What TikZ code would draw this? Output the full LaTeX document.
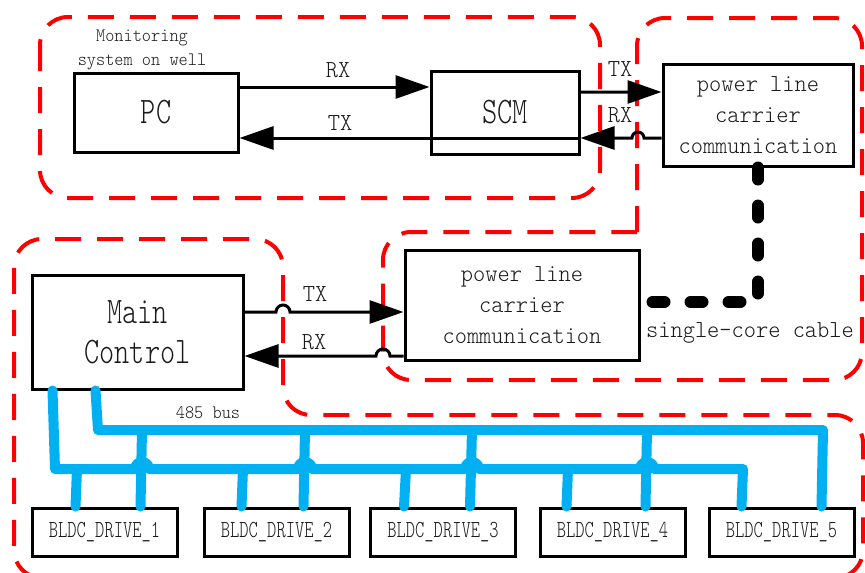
\documentclass[tikz,border=0pt]{standalone}
\usepackage{fontspec}
\setmainfont{Latin Modern Mono Light}
\newfontfamily\fnarrow[FakeStretch=0.72]{Latin Modern Mono Light}
\newfontfamily\fmid[FakeStretch=0.95]{Latin Modern Mono Light}
\newfontfamily\fsmall[FakeStretch=0.92]{Latin Modern Mono Light}
\newfontfamily\fbig[FakeStretch=0.77]{Latin Modern Mono Light}
\usetikzlibrary{arrows.meta}
\definecolor{buscyan}{HTML}{00B0F0}
\definecolor{inkgrey}{HTML}{1A1A1A}

\tikzset{
  box/.style={draw=black, line width=3pt, inner sep=0pt, align=center, text=inkgrey},
  bigtxt/.style={font=\fbig\fontsize{37.5}{40}\selectfont},
  plctxt/.style={font=\fmid\fontsize{24.5}{31}\selectfont},
  drvtxt/.style={font=\fnarrow\fontsize{24.5}{26}\selectfont},
  lbl/.style={font=\fmid\fontsize{24.5}{25}\selectfont, inner sep=0pt, text=inkgrey},
  smalltxt/.style={font=\fsmall\fontsize{19}{24}\selectfont, inner sep=0pt, align=center, text=inkgrey},
  arr/.style={line width=3pt, -{Triangle[length=34pt,width=23pt]}},
  region/.style={draw=red, line width=4pt, dash pattern=on 26pt off 16pt, rounded corners=28pt},
  bus/.style={draw=buscyan, line width=10pt, line join=round, line cap=round},
  cable/.style={draw=black, line width=12pt, line cap=round, dash pattern=on 12pt off 26pt}
}

\begin{document}
\begin{tikzpicture}[x=1pt,y=-1pt]
\useasboundingbox (0,0) rectangle (865,573);

% dashed group outlines
\draw[region] (40,17) rectangle (600,198);
\draw[region] (637,232) -- (637,18) -- (862,18) -- (862,380) -- (383,380) -- (383,232) -- (637,232);
\draw[region] (400,578) -- (14,578) -- (14,239) -- (283,239) -- (283,415) -- (863,415) -- (863,578) -- cycle;

% blocks
\node[box, minimum width=164pt, minimum height=79pt, bigtxt] (PC) at (156,112.5) {PC};
\node[box, minimum width=148pt, minimum height=83pt, bigtxt] (SCM) at (505,112.5) {SCM};
\node[box, minimum width=190pt, minimum height=102pt, plctxt] (PLCa) at (758,115) {power line\\carrier\\communication};
\node[box, minimum width=234pt, minimum height=110pt, plctxt] (PLCb) at (522,305) {power line\\carrier\\communication};
\node[box, minimum width=211pt, minimum height=114pt, bigtxt] (MC) at (137.5,332) {Main\\Control};

\node[box, minimum width=145pt, minimum height=48pt, drvtxt] (B1) at (104.5,532) {BLDC\_DRIVE\_1};
\node[box, minimum width=145pt, minimum height=48pt, drvtxt] (B2) at (276.5,532) {BLDC\_DRIVE\_2};
\node[box, minimum width=145pt, minimum height=48pt, drvtxt] (B3) at (443,532) {BLDC\_DRIVE\_3};
\node[box, minimum width=145pt, minimum height=48pt, drvtxt] (B4) at (612.5,532) {BLDC\_DRIVE\_4};
\node[box, minimum width=145pt, minimum height=48pt, drvtxt] (B5) at (781.5,532) {BLDC\_DRIVE\_5};

% texts
\node[smalltxt] (mon) at (142,50) {Monitoring\\system on well};
\node[lbl] (l1) at (338,70) {RX};
\node[lbl] (l2) at (340,123) {TX};
\node[lbl] (l3) at (620,69) {TX};
\node[lbl] (l4) at (620,115) {RX};
\node[lbl] (l5) at (315,294) {TX};
\node[lbl] (l6) at (314,342) {RX};
\node[lbl] (cab) at (750,333) {single-core cable};
\node[smalltxt] (bus) at (208,413) {485 bus};

% PC <-> SCM
\draw[arr] ([yshift=25.5pt]PC.east) -- ([yshift=25.5pt]SCM.west);
\draw[arr] ([yshift=-25.5pt]SCM.east) -- ([yshift=-25.5pt]PC.west -| PC.east);

% SCM <-> upper carrier unit
\coordinate (ta) at ([yshift=20.5pt]SCM.east);
\coordinate (ra) at ([yshift=-23pt]PLCa.west);
\draw[arr] (ta) -- (631,92) arc[start angle=180, end angle=0, radius=6pt] -- (ta -| PLCa.west);
\draw[arr] (ra) -- (644,138) arc[start angle=0, end angle=180, radius=6pt] -- (ra -| SCM.east);

% Main control <-> lower carrier unit
\coordinate (tb) at ([yshift=20pt]MC.east);
\coordinate (rb) at ([yshift=-51pt]PLCb.west);
\draw[arr] (tb) -- (276,312) arc[start angle=180, end angle=0, radius=7pt] -- (tb -| PLCb.west);
\draw[arr] (rb) -- (390,356) arc[start angle=0, end angle=180, radius=7pt] -- (rb -| MC.east);

% cable between carrier units
\coordinate (ce) at ([yshift=3pt]PLCb.east);
\draw[cable] (PLCa.south) |- (ce);

% 485 bus
\draw[bus] ([xshift=22pt]MC.south west) -- (55,469) -- (135,469)
  arc[start angle=180, end angle=0, radius=7pt] -- (298,469)
  arc[start angle=180, end angle=0, radius=7pt] -- (465,469)
  arc[start angle=180, end angle=0, radius=7pt] -- (640,469)
  arc[start angle=180, end angle=0, radius=7pt] -- (743,469) -- ([xshift=34pt]B5.north west);
\draw[bus] ([xshift=65pt]MC.south west) -- (98,430) -- (823,430) -- ([xshift=114pt]B5.north west);
\draw[bus] (77,469) -- ([xshift=45pt]B1.north west);
\draw[bus] (243,469) -- ([xshift=39pt]B2.north west);
\draw[bus] (406,469) -- ([xshift=35pt]B3.north west);
\draw[bus] (568,469) -- ([xshift=28pt]B4.north west);
\draw[bus] (142,430) -- ([xshift=110pt]B1.north west);
\draw[bus] (305,430) -- ([xshift=101pt]B2.north west);
\draw[bus] (472,430) -- ([xshift=101pt]B3.north west);
\draw[bus] (647,430) -- ([xshift=107pt]B4.north west);
\end{tikzpicture}
\end{document}
